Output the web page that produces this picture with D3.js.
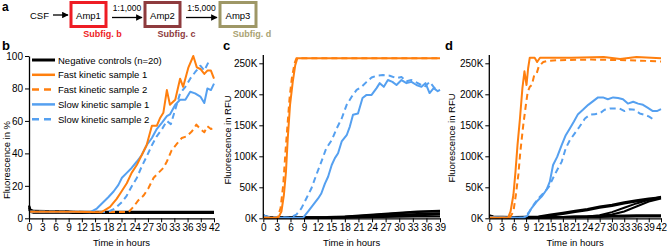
<!DOCTYPE html>
<html><head><meta charset="utf-8">
<script src="https://cdn.jsdelivr.net/npm/d3@7"></script>
<style>body{margin:0;background:#fff;} text{font-family:"Liberation Sans",Arial,sans-serif;}</style>
</head><body>
<script>
// ---------- DATA ----------
const legendLabels = ["Negative controls (n=20)","Fast kinetic sample 1","Fast kinetic sample 2","Slow kinetic sample 1","Slow kinetic sample 2"];
const ticksB = [0,3,6,9,12,15,18,21,24,27,30,33,36,39,42];
const ticksC = [0,3,6,9,12,15,18,21,24,27,30,33,36,39];
const ticksD = [0,3,6,9,12,15,18,21,24,27,30,33,36,39,42];
const ticksPct = [0,20,40,60,80,100];
const ticksRFU = [0,50000,100000,150000,200000,250000];

// Panel b (% fluorescence)
const negB_t = [0,0.3,1,4,8,9,10,14,20,28,36,42];
const negB = [
  [7.5,5,4.3,4.2,4.2,4.1,3.9,3.9,3.8,3.9,3.9,3.9],
  [6.5,4.5,3.8,3.8,3.8,3.8,3.6,3.6,3.5,3.5,3.6,3.6],
  [5.5,4,3.4,3.4,3.4,3.4,3.3,3.3,3.2,3.3,3.2,3.2],
  [8,5.5,4.6,4.5,4.5,4.4,4.1,4.0,4.0,4.0,4.1,4.0]
];
const fast1B_t = [0,10,16.5,18.4,19.9,21,22.2,23.3,24.5,25.6,26.7,27.9,29,29.8,30.5,31.3,32,33.2,34.3,35,36.2,37.3,38.1,38.9,39.8,40.5,41.3,42];
const fast1B   = [4,4,3.8,7,12,16.5,21.6,28,33,39,45,57,57,62,65,79,70,73,86,81,93,100,93,92,89,91,91,86];
const fast2B_t = [0,10,22.6,23.7,24.8,26,27.1,28.3,29.4,30.5,31.3,32.4,33.6,34.7,35.8,37,38,38.9,39.8,40.5,41.3,42];
const fast2B   = [4,4,3.8,7,11,14,18.5,25,28,31,35,42,46,49.5,50.5,53.6,57.7,55,53,56.7,55,56];
const slow1B_t = [0,10,13.9,15.4,16.9,18,19.2,20.3,21.1,22.2,23.3,24.5,25.6,26.7,27.9,29,30.2,31.3,32,33.2,34.3,35.5,36.6,37.7,38.9,39.8,40.5,41.3,42];
const slow1B   = [4,4,3.8,6,10,13,16.5,20.6,25,28,31,35,39,45,49.5,55,59,63,64,70,73,73,78,77,75,71,80,79,83];
const slow2B_t = [0,10,17.7,19.5,21.1,22.2,23.3,24.5,25.6,26.7,27.9,29,30.2,31.3,32.2,33.2,34.3,35.5,36.6,37.7,38.9,39.8,40.8];
const slow2B   = [4,4,3.8,6,10,14,19.6,25,32,38,45,50.5,55,60,58,67,77,81,86,90,94,91,96.5];

// Panel c (RFU)
const negC_t = [0,1,8,14,18,22,26,30,34,39];
const negC = [
  [4000,2000,1500,1500,2500,4000,6000,8000,10000,11000],
  [3000,1500,1000,1000,2000,3000,5000,6000,7000,8000],
  [3000,1000,1000,1000,1500,2000,3000,4000,5000,6000],
  [5000,2000,1500,2000,3000,5000,7000,9000,11000,12000],
  [2000,1000,500,500,1000,1500,2000,2500,3000,3000]
];
const fast1C_t = [0,3.3,4.0,4.55,5,5.4,5.9,6.5,7.05,7.5,39];
const fast1C   = [1000,1000,11000,38000,75000,129000,183000,220000,247000,258000,258000];
const fast2C_t = [0,3.1,3.8,4.4,4.9,5.4,5.8,6.3,6.9,7.3,39];
const fast2C   = [1000,1000,16000,54000,108000,156000,194000,226000,250000,258000,258000];
const slow1C_t = [0,1.5,8.8,9.9,11,12.1,12.8,13.6,14.3,15.1,15.8,16.5,17.3,18.4,19.1,19.8,20.9,21.9,22.8,23.9,25,25.7,26.6,27.5,28.5,29.4,30.5,31.6,32.7,33.8,34.9,35.8,36.7,37.6,38.5,39];
const slow1C   = [5000,1000,1000,11000,21500,32000,40000,56000,67000,86000,97000,105000,124000,134000,148000,167000,169000,194000,199000,199000,210000,218000,212000,223000,220000,215000,223000,218000,220000,215000,212000,218000,202000,210000,205000,207000];
const slow2C_t = [0,5.9,7.3,8.4,9.5,10.6,11.7,12.8,13.9,15.1,16.2,17.3,18.4,19.5,20.6,21.7,22.8,23.9,25,26.4,27.9,29.4,30.5,31.6,32.7,34.1,35.6,36.7,37.8,38.9];
const slow2C   = [3000,1000,6000,16000,32000,48000,70000,91000,113000,126000,145000,161000,183000,196000,207000,212000,220000,227000,230000,231000,230000,226000,228000,221000,223000,218000,212000,220000,210000,207000];

// Panel d (RFU)
const negD_t = [0,1,6,12,15,18,21,24,27,30,33,36,39,42];
const negD = [
  [5000,3000,2000,3000,6000,9000,12000,15000,19000,22000,26000,29000,32000,34000],
  [4000,2000,2000,2000,4000,7000,10000,13000,17000,20000,24000,27000,30000,33000],
  [3000,2000,1500,1500,2000,2000,2500,3000,5000,10000,17000,24000,30000,35000],
  [3000,2000,1500,1500,2000,2000,3000,3000,4000,6000,11000,19000,27000,32000],
  [3000,1500,1000,1000,1500,2000,2500,3000,3500,4000,4500,5000,5000,5000],
  [2000,1000,1000,1000,1000,1500,1500,2000,2000,2500,2500,3000,3000,3000]
];
const fast1D_t = [0,4.6,5.2,5.9,6.4,6.9,7.5,8.1,8.6,9.1,9.5,9.9,11.1,11.7,12.4,20,28,32,36,42];
const fast1D   = [1000,1000,11000,38000,75000,118000,161000,210000,237000,215000,242000,259000,259000,252000,259000,259000,260000,257000,260000,258000];
const fast2D_t = [0,5,5.9,6.5,7.1,7.6,8.3,8.95,9.4,9.9,10.4,11,11.6,12.1,13.2,14.4,16.4,25,34,42];
const fast2D   = [1000,1000,11000,38000,70000,108000,150000,183000,204000,212000,215000,231000,234000,245000,252000,254000,255000,256000,255000,253000];
const slow1D_t = [0,8.3,9.3,10.3,11.6,12.8,14,14.8,15.6,16.6,17.7,18.7,19.7,20.7,21.7,22.9,24.2,25.4,26.6,27.8,29,30.3,31.5,32.7,33.9,35.2,36.4,37.6,38.8,40,41,42];
const slow1D   = [2000,1000,4000,16000,27000,35000,46000,59000,86000,99000,118000,134000,145000,156000,168000,175000,183000,189000,195000,195000,192000,195000,194000,192000,185000,188000,185000,183000,178000,173000,173000,176000];
const slow2D_t = [0,8.7,9.8,11.1,12.4,13.6,14.6,15.6,16.6,17.7,18.7,19.7,20.9,22.1,23.4,24.6,25.8,27,28.2,29.5,30.7,31.9,33.1,34.3,35.6,36.8,38,39.1,40];
const slow2D   = [1000,1000,11000,24000,35000,43000,51000,65000,78000,91000,113000,126000,137000,148000,161000,167000,168000,169000,175000,177000,177000,177000,173000,176000,175000,169000,167000,164000,160000];

// ---------- STYLE ----------
const ORANGE = "#ff7f0e", BLUE = "#55a0f0", DASH = "6,4";
const svg = d3.select("body").append("svg").attr("width",669).attr("height",248);

const zip = (t,v) => t.map((h,i)=>[h,v[i]]);

function panel(o){
  const x = d3.scaleLinear().domain([0,o.xmax]).range(o.xr);
  const y = d3.scaleLinear().domain([0,o.ymax]).range(o.yr);
  const line = d3.line().x(d=>x(d[0])).y(d=>y(d[1]));
  const g = svg.append("g");
  o.neg.forEach(v=>{
    g.append("path").attr("d",line(zip(o.negT,v))).attr("fill","none").attr("stroke","#000").attr("stroke-width",2);
  });
  const series = [
    {t:o.f1t,v:o.f1,c:ORANGE,d:null},
    {t:o.f2t,v:o.f2,c:ORANGE,d:DASH},
    {t:o.s1t,v:o.s1,c:BLUE,d:null},
    {t:o.s2t,v:o.s2,c:BLUE,d:DASH}
  ];
  o.order.forEach(i=>{
    const s = series[i];
    g.append("path").attr("d",line(zip(s.t,s.v))).attr("fill","none").attr("stroke",s.c)
      .attr("stroke-width",2).attr("stroke-dasharray",s.d).attr("stroke-linejoin","round");
  });
  const xa = g.append("g").attr("transform",`translate(0,${o.yr[0]})`)
    .call(d3.axisBottom(x).tickValues(o.xticks).tickSize(4).tickSizeOuter(0).tickPadding(2));
  const ya = g.append("g").attr("transform",`translate(${o.xr[0]},0)`)
    .call(d3.axisLeft(y).tickValues(o.yticks).tickSize(4).tickSizeOuter(0).tickPadding(2).tickFormat(o.fmt));
  if(o.yAxisTop!==undefined) ya.select(".domain").attr("d",`M-0,${o.yr[0]}V${o.yAxisTop}`);
  [xa,ya].forEach(a=>{
    a.selectAll("text").attr("font-size",10).attr("fill","#000").attr("font-family","Liberation Sans, Arial, sans-serif");
    a.selectAll("line").attr("stroke","#000");
    a.select(".domain").attr("stroke","#000").attr("stroke-width",1.3);
    a.attr("font-family",null);
  });
  g.append("text").attr("x",(o.xr[0]+o.xr[1])/2).attr("y",246).attr("text-anchor","middle")
    .attr("font-size",9.5).text("Time in hours");
  g.append("text").attr("transform",`translate(${o.ytx},${o.yty}) rotate(-90)`).attr("text-anchor","middle")
    .attr("font-size",9.5).text(o.ytitle);
  svg.append("text").attr("x",o.letterX).attr("y",50).attr("font-size",13).attr("font-weight","bold").text(o.letter);
  return {x,y};
}

panel({xmax:42,ymax:100,xr:[29,214],yr:[218.3,56],xticks:ticksB,yticks:ticksPct,fmt:d=>d,
  negT:negB_t,neg:negB,f1t:fast1B_t,f1:fast1B,f2t:fast2B_t,f2:fast2B,s1t:slow1B_t,s1:slow1B,s2t:slow2B_t,s2:slow2B,
  order:[1,3,2,0],ytitle:"Fluorescence in %",ytx:10,yty:160,letter:"b",letterX:2});
panel({xmax:39,ymax:260000,xr:[263.3,440],yr:[218.3,57.1],xticks:ticksC,yticks:ticksRFU,fmt:d=>(d/1000)+"K",
  negT:negC_t,neg:negC,f1t:fast1C_t,f1:fast1C,f2t:fast2C_t,f2:fast2C,s1t:slow1C_t,s1:slow1C,s2t:slow2C_t,s2:slow2C,
  order:[3,2,1,0],ytitle:"Fluorescence in RFU",ytx:231,yty:140,letter:"c",letterX:223,yAxisTop:55});
panel({xmax:42,ymax:260000,xr:[489.3,661],yr:[218.3,57.1],xticks:ticksD,yticks:ticksRFU,fmt:d=>(d/1000)+"K",
  negT:negD_t,neg:negD,f1t:fast1D_t,f1:fast1D,f2t:fast2D_t,f2:fast2D,s1t:slow1D_t,s1:slow1D,s2t:slow2D_t,s2:slow2D,
  order:[3,2,1,0],ytitle:"Fluorescence in RFU",ytx:455,yty:138,letter:"d",letterX:445,yAxisTop:55});

// legend in panel b
const legStyles = [{c:"#000",d:null,w:3},{c:ORANGE,d:null,w:2.5},{c:ORANGE,d:"7,5",w:2.5},{c:BLUE,d:null,w:2.5},{c:BLUE,d:"7,5",w:2.5}];
const lg = svg.append("g");
legendLabels.forEach((lab,i)=>{
  const yy = 60 + i*14.8;
  lg.append("line").attr("x1",32).attr("x2",55).attr("y1",yy).attr("y2",yy)
    .attr("stroke",legStyles[i].c).attr("stroke-width",legStyles[i].w).attr("stroke-dasharray",legStyles[i].d);
  lg.append("text").attr("x",58).attr("y",yy+3.5).attr("font-size",9.5).text(lab);
});

// ---------- panel a diagram ----------
const boxes = [
  {label:"Amp1",x:71,w:35,c:"#ee1c24",sub:"Subfig. b",sc:"#ee1c24"},
  {label:"Amp2",x:145,w:35,c:"#8e3b3e",sub:"Subfig. c",sc:"#8e3b3e"},
  {label:"Amp3",x:220,w:36,c:"#9e9766",sub:"Subfig. d",sc:"#a9a272"}
];
const ratios = ["1:1,000","1:5,000"];
svg.append("defs").append("marker").attr("id","ah").attr("viewBox","0 0 10 10").attr("refX",9).attr("refY",5)
  .attr("markerWidth",5).attr("markerHeight",5).attr("orient","auto")
  .append("path").attr("d","M0,0L10,5L0,10z").attr("fill","#000");
const a = svg.append("g");
a.append("text").attr("x",2).attr("y",11).attr("font-size",12).attr("font-weight","bold").text("a");
a.append("text").attr("x",30).attr("y",18.5).attr("font-size",9.5).text("CSF");
a.append("line").attr("x1",53).attr("x2",68).attr("y1",15).attr("y2",15).attr("stroke","#000").attr("stroke-width",1.3).attr("marker-end","url(#ah)");
boxes.forEach((b,i)=>{
  a.append("rect").attr("x",b.x).attr("y",2.5).attr("width",b.w).attr("height",24).attr("fill","none").attr("stroke",b.c).attr("stroke-width",3);
  a.append("text").attr("x",b.x+b.w/2).attr("y",18.5).attr("text-anchor","middle").attr("font-size",9.5).text(b.label);
  a.append("text").attr("x",b.x+b.w/2+14).attr("y",36.5).attr("text-anchor","middle").attr("font-size",9).attr("font-weight","bold").attr("fill",b.sc).text(b.sub);
  if(i<2){
    const x1 = b.x+b.w+6, x2 = boxes[i+1].x-3;
    a.append("line").attr("x1",x1).attr("x2",x2).attr("y1",17.5).attr("y2",17.5).attr("stroke","#000").attr("stroke-width",1.3).attr("marker-end","url(#ah)");
    a.append("text").attr("x",(x1+x2)/2).attr("y",11).attr("text-anchor","middle").attr("font-size",8.5).text(ratios[i]);
  }
});
</script>
</body></html>
